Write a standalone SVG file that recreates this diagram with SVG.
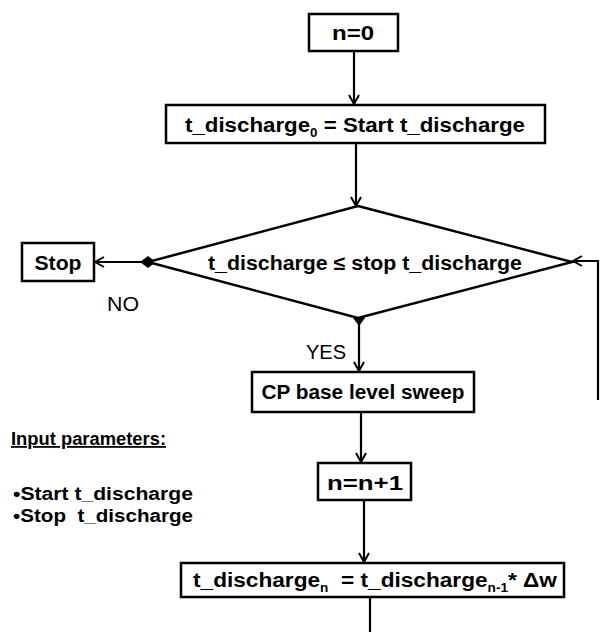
<svg xmlns="http://www.w3.org/2000/svg" width="609" height="632" viewBox="0 0 609 632">
<style>
.box{fill:#fff;stroke:#000;stroke-width:2.5}
.lbl{font-family:"Liberation Sans",Arial,sans-serif;font-weight:bold;font-size:20px;fill:#000;text-anchor:middle}
.plain{font-family:"Liberation Sans",Arial,sans-serif;font-size:21px;fill:#000}
.side{font-family:"Liberation Sans",Arial,sans-serif;font-weight:bold;font-size:18px;fill:#000}
.con{fill:none;stroke:#000;stroke-width:2.2}
</style>
<defs>
<marker id="arr" markerWidth="12" markerHeight="12" refX="10" refY="6" orient="auto" markerUnits="userSpaceOnUse">
<path d="M1,1 L10,6 L1,11" fill="none" stroke="#000" stroke-width="2"/>
</marker>
<marker id="dia" markerWidth="18" markerHeight="18" refX="9" refY="9" orient="auto" markerUnits="userSpaceOnUse">
<path d="M1,9 L9,3 L17,9 L9,15 Z" fill="#000"/>
</marker>
</defs>
<g id="connectors">
<line class="con" x1="354" y1="51" x2="354" y2="104" marker-end="url(#arr)"/>
<line class="con" x1="356" y1="143" x2="356" y2="206" marker-end="url(#arr)"/>
<line class="con" x1="148" y1="262" x2="95" y2="262" marker-start="url(#dia)" marker-end="url(#arr)"/>
<line class="con" x1="359" y1="318" x2="359" y2="371" marker-start="url(#dia)" marker-end="url(#arr)"/>
<line class="con" x1="361" y1="412" x2="361" y2="462" marker-end="url(#arr)"/>
<line class="con" x1="364" y1="500" x2="364" y2="562" marker-end="url(#arr)"/>
<line class="con" x1="370" y1="597" x2="370" y2="632"/>
<polyline class="con" points="598,400 598,261 573,261" marker-end="url(#arr)"/>
</g>
<g id="n0">
<rect class="box" x="309" y="14" width="89" height="37"/>
<text class="lbl" x="353" y="40" textLength="42" lengthAdjust="spacingAndGlyphs">n=0</text>
</g>
<g id="init">
<rect class="box" x="166" y="105" width="379" height="38"/>
<text class="lbl" x="355" y="132" textLength="340" lengthAdjust="spacingAndGlyphs">t_discharge<tspan font-size="12" dy="5">0</tspan><tspan dy="-5"> = Start t_discharge</tspan></text>
</g>
<g id="decision">
<polygon points="358,206 572,262 358,318 148,262" fill="#fff" stroke="#000" stroke-width="2.5"/>
<text class="lbl" x="365" y="270" font-size="21" textLength="314" lengthAdjust="spacingAndGlyphs">t_discharge ≤ stop t_discharge</text>
</g>
<g id="stop">
<rect class="box" x="22" y="243" width="72" height="38"/>
<text class="lbl" x="58" y="270" textLength="47" lengthAdjust="spacingAndGlyphs">Stop</text>
</g>
<text class="plain" x="107" y="311" textLength="32" lengthAdjust="spacingAndGlyphs">NO</text>
<text class="plain" x="306" y="359" textLength="40" lengthAdjust="spacingAndGlyphs">YES</text>
<g id="sweep">
<rect class="box" x="252" y="372" width="222" height="40"/>
<text class="lbl" x="363" y="399" textLength="203" lengthAdjust="spacingAndGlyphs">CP base level sweep</text>
</g>
<g id="incr">
<rect class="box" x="318" y="463" width="93" height="37"/>
<text class="lbl" x="365" y="490" textLength="76" lengthAdjust="spacingAndGlyphs">n=n+1</text>
</g>
<g id="update">
<rect class="box" x="181" y="563" width="383" height="34"/>
<text class="lbl" x="375" y="587" textLength="364" lengthAdjust="spacingAndGlyphs">t_discharge<tspan font-size="12" dy="5">n</tspan><tspan dy="-5">&#160; = t_discharge</tspan><tspan font-size="12" dy="5">n-1</tspan><tspan dy="-5">* Δw</tspan></text>
</g>
<g id="inputs">
<text class="side" x="11" y="445" text-decoration="underline" textLength="155" lengthAdjust="spacingAndGlyphs">Input parameters:</text>
<text class="side" x="13" y="500" textLength="180" lengthAdjust="spacingAndGlyphs">•Start t_discharge</text>
<text class="side" x="13" y="522" textLength="180" lengthAdjust="spacingAndGlyphs">•Stop&#160; t_discharge</text>
</g>
</svg>
